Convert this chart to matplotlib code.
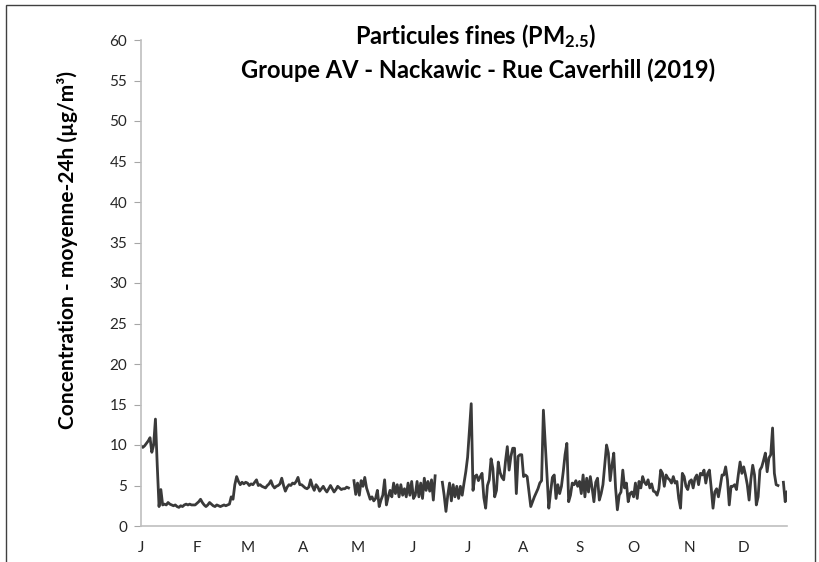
import numpy as np
import pandas as pd
import matplotlib
matplotlib.use("Agg")
import matplotlib.pyplot as plt
from matplotlib.patches import Rectangle

nan = np.nan

# Daily 24h mean PM2.5 concentrations (µg/m³), 2019, starting Jan 1
pm25 = [
    9.9, 9.7, 9.9, 10.2, 10.5, 10.9, 9.1, 10.0, 13.2, 7.5,
    2.4, 4.5, 2.6, 2.7, 2.6, 2.9, 2.7, 2.6, 2.5, 2.6,
    2.4, 2.3, 2.5, 2.4, 2.6, 2.7, 2.6, 2.7, 2.6, 2.6,
    2.6, 2.8, 3.0, 3.3, 2.9, 2.6, 2.4, 2.6, 2.9, 2.7,
    2.5, 2.4, 2.6, 2.5, 2.4, 2.5, 2.6, 2.5, 2.6, 2.7,
    3.6, 3.3, 5.1, 6.1, 5.5, 5.1, 5.4, 5.2, 5.4, 5.3,
    5.0, 5.2, 5.1, 5.4, 5.7, 5.0, 5.1, 4.9, 4.8, 4.7,
    5.0, 5.2, 5.6, 5.0, 4.7, 4.9, 5.0, 5.2, 5.9, 5.0,
    4.3, 4.8, 5.1, 5.0, 5.3, 5.2, 5.5, 6.0, 5.1, 5.1,
    4.9, 4.7, 4.6, 4.8, 5.7, 4.9, 4.4, 5.1, 4.8, 4.3,
    4.6, 4.9, 4.5, 4.2, 4.6, 5.0, 4.6, 4.2, 4.5, 4.9,
    4.7, 4.5, 4.6, 4.6, 4.8, 4.7, nan, nan, 5.6, 3.9,
    5.3, 3.8, 5.6, 4.9, 6.0, 4.7, 4.0, 3.3, 3.6, 3.1,
    3.4, 4.4, 2.4, 3.2, 3.8, 5.7, 2.6, 3.6, 4.4, 3.6,
    5.3, 4.0, 5.1, 3.6, 5.1, 3.8, 4.6, 3.6, 5.3, 3.8,
    5.5, 3.4, 3.8, 5.5, 3.6, 5.3, 3.4, 5.9, 4.4, 5.5,
    4.3, 5.7, 3.2, 6.2, nan, nan, nan, 5.4, 3.8, 1.8,
    3.8, 5.3, 3.1, 5.1, 3.6, 4.9, 3.4, 4.9, 3.8, 5.3,
    6.7, 8.5, 11.8, 15.1, 4.4, 6.1, 6.3, 5.6, 6.1, 6.5,
    3.5, 2.2, 5.0, 5.7, 8.3, 7.1, 3.6, 4.4, 7.9, 6.6,
    6.0, 5.7, 8.0, 9.8, 6.9, 8.6, 9.6, 9.6, 4.0, 8.6,
    8.8, 8.8, 6.1, 6.3, 6.1, 4.2, 2.4, 3.0, 3.6, 4.1,
    4.6, 5.3, 5.6, 14.3, 10.2, 6.2, 2.2, 4.2, 6.0, 6.3,
    3.4, 5.1, 4.0, 4.9, 6.7, 8.8, 10.2, 3.0, 3.8, 5.3,
    5.1, 5.6, 4.9, 5.5, 4.0, 6.3, 3.6, 5.9, 4.2, 6.1,
    4.7, 3.0, 5.4, 5.9, 3.2, 4.0, 5.1, 7.5, 10.0, 9.0,
    5.6, 7.5, 9.0, 4.7, 2.0, 3.8, 4.2, 6.9, 4.7, 5.3,
    3.0, 4.0, 4.2, 3.6, 5.3, 3.4, 5.5, 4.7, 6.1, 5.4,
    5.1, 5.7, 4.7, 5.2, 4.3, 4.2, 3.8, 4.6, 6.9, 6.5,
    4.9, 6.3, 5.9, 5.7, 5.3, 6.1, 5.3, 5.5, 3.4, 2.2,
    6.5, 6.1, 4.9, 4.5, 5.5, 5.7, 4.7, 5.9, 6.3, 5.1,
    6.5, 6.3, 6.9, 5.3, 6.5, 6.9, 4.7, 2.2, 4.2, 4.6,
    3.6, 4.9, 6.3, 6.3, 7.3, 5.7, 2.6, 4.9, 4.9, 5.1,
    4.5, 6.3, 7.9, 6.5, 7.3, 6.3, 5.1, 3.2, 5.8, 7.5,
    6.3, 2.6, 3.6, 6.9, 7.3, 8.1, 9.0, 6.7, 8.4, 8.8,
    12.1, 6.5, 5.1, 5.0, nan, nan, 5.4, 3.0, 4.2,
]
start_date = "2019-01-01"
month_labels = ["J", "F", "M", "A", "M", "J", "J", "A", "S", "O", "N", "D"]
y_ticks = list(range(0, 65, 5))

title_line1 = r"Particules fines (PM$_{2.5}$)"
title_line2 = "Groupe AV - Nackawic - Rue Caverhill (2019)"
y_label = "Concentration - moyenne-24h (µg/m³)"

FONT = "Lato"
plt.rcParams["font.family"] = [FONT, "DejaVu Sans"]
plt.rcParams["mathtext.fontset"] = "custom"
plt.rcParams["mathtext.rm"] = FONT + ":bold"
plt.rcParams["mathtext.it"] = FONT + ":bold"
plt.rcParams["mathtext.bf"] = FONT + ":bold"

W, H = 820, 562
fig = plt.figure(figsize=(W / 100, H / 100), dpi=100)
fig.patch.set_facecolor("white")

ax_left, ax_right, ax_bottom, ax_top = 141, 787, 526, 40
ax = fig.add_axes([ax_left / W, 1 - ax_bottom / H, (ax_right - ax_left) / W, (ax_bottom - ax_top) / H])

dates = pd.date_range(start_date, periods=len(pm25), freq="D")
values = np.array(pm25, dtype=float)
ax.plot(dates, values, color="#3a3a3a", linewidth=2.0, solid_joinstyle="round")

ax.set_xlim(dates[0], dates[-1])
ax.set_ylim(0, 60)
ax.set_yticks(y_ticks)
ax.tick_params(axis="y", direction="out", length=5, width=0.8, color="#a6a6a6",
               labelsize=11, labelcolor="#262626", pad=5)

month_starts = pd.date_range(start_date, periods=12, freq="MS")
ax.set_xticks(month_starts)
ax.set_xticklabels(month_labels)
ax.tick_params(axis="x", length=0, labelsize=11, labelcolor="#262626", pad=11)

for side in ["top", "right"]:
    ax.spines[side].set_visible(False)
for side in ["left", "bottom"]:
    ax.spines[side].set_color("#bfbfbf")
    ax.spines[side].set_linewidth(1.2)

# titles
fig.text(476 / W, 1 - 44 / H, title_line1, ha="center", va="baseline",
         fontsize=17, fontweight="bold", color="black")
fig.text(478 / W, 1 - 78 / H, title_line2, ha="center", va="baseline",
         fontsize=17, fontweight="bold", color="black")

# y label
fig.text(68 / W, 1 - 250 / H, y_label, rotation=90, ha="center", va="center",
         fontsize=15, fontweight="bold", color="black")

# chart border
fig.patches.append(Rectangle((6 / W, -0.02), (815 - 6) / W, (H - 5) / H + 0.02,
                             transform=fig.transFigure, fill=False,
                             edgecolor="#404040", linewidth=1.0))

fig.savefig("out.png", dpi=100, facecolor="white")
